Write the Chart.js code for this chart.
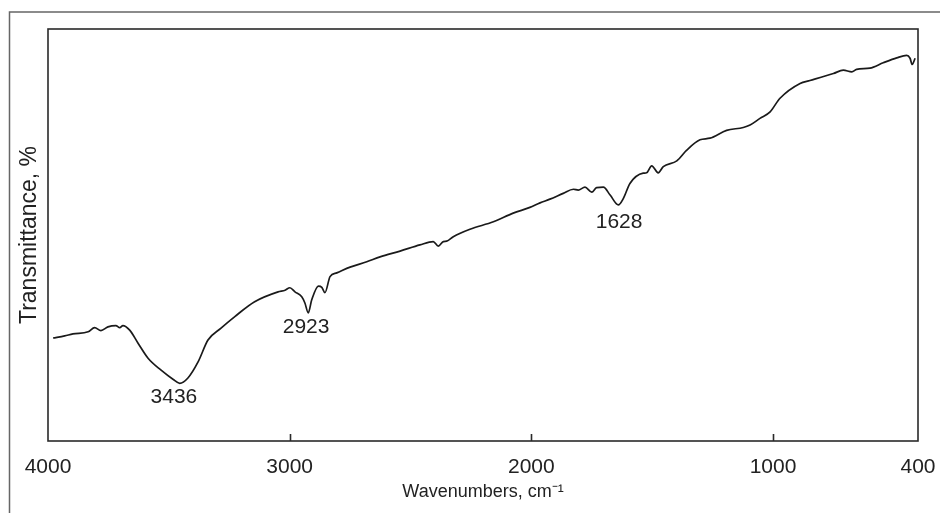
<!DOCTYPE html>
<html><head><meta charset="utf-8">
<script src="https://cdn.jsdelivr.net/npm/chart.js@4"></script>
<style>html,body{margin:0;padding:0;background:#fff;overflow:hidden}#wrap{position:relative;width:940px;height:513px}</style>
</head><body><div id="wrap"><canvas id="c" width="940" height="513"></canvas></div>
<script>
const wavenumbers = [3979,3931,3897,3834,3807,3781,3752,3719,3703,3690,3662,3628,3586,3532,3483,3455,3421,3379,3338,3284,3227,3145,3048,3019,2999,2978,2950,2937,2923,2909,2881,2867,2854,2833,2805,2750,2681,2626,2543,2461,2406,2385,2364,2350,2323,2254,2157,2075,2006,1964,1923,1868,1826,1806,1778,1750,1730,1702,1674,1640,1619,1592,1537,1523,1502,1475,1454,1398,1357,1302,1261,1192,1123,1095,1054,1012,971,888,847,750,709,674,654,599,544,488,447,433,424,412];
const transmittance = [25.0,25.5,26.0,26.5,27.5,26.8,27.7,28.0,27.5,28.0,26.9,23.8,20.1,17.2,15.0,14.0,15.3,19.2,24.5,27.4,30.2,33.8,36.2,36.6,37.2,36.2,35.0,33.5,31.1,34.2,37.6,37.3,36.0,39.9,40.8,42.2,43.5,44.7,46.1,47.6,48.4,47.3,48.4,48.5,49.6,51.4,53.2,55.3,56.7,57.8,58.7,60.1,61.1,60.9,61.6,60.4,61.5,61.6,59.7,57.3,58.9,62.5,65.0,65.1,66.8,65.1,66.6,68.0,70.6,73.1,73.5,75.4,76.1,76.7,78.3,79.9,83.2,86.8,87.5,89.2,90.0,89.6,90.2,90.5,91.8,93.0,93.6,92.9,91.4,92.9];
const tickValues = [4000,3000,2000,1000,400];
const innerTickValues = [3000,2000,1000];
const peakLabels = ['3436','2923','1628'];
const peakLabelX = [3479,2932,1637];
const peakLabelY = [10.7,27.7,53.2];

const FONT = "'Liberation Sans', Arial, sans-serif";

const framePlugin = {
  id: 'frame',
  afterDraw(chart) {
    const ctx = chart.ctx, a = chart.chartArea;
    const xs = chart.scales.x, ys = chart.scales.y;
    ctx.save();
    ctx.strokeStyle = '#666';
    ctx.lineWidth = 1.5;
    ctx.beginPath();
    ctx.moveTo(9.5, 513);
    ctx.lineTo(9.5, 12);
    ctx.lineTo(940, 12);
    ctx.stroke();
    ctx.strokeStyle = '#2a2a2a';
    ctx.lineWidth = 1.6;
    ctx.strokeRect(a.left, a.top, a.right - a.left, a.bottom - a.top);
    ctx.beginPath();
    innerTickValues.forEach(v => {
      const px = Math.round(xs.getPixelForValue(v)) + 0.5;
      ctx.moveTo(px, a.bottom);
      ctx.lineTo(px, a.bottom - 7);
    });
    ctx.stroke();
    ctx.fillStyle = '#222';
    ctx.font = '21px ' + FONT;
    ctx.textAlign = 'center';
    ctx.textBaseline = 'middle';
    peakLabels.forEach((t, i) => {
      ctx.fillText(t, xs.getPixelForValue(peakLabelX[i]), ys.getPixelForValue(peakLabelY[i]));
    });
    ctx.restore();
  }
};

new Chart(document.getElementById('c'), {
  type: 'line',
  data: {
    datasets: [{
      data: wavenumbers.map((x, i) => ({x: x, y: transmittance[i]})),
      borderColor: '#1a1a1a',
      borderWidth: 1.7,
      pointRadius: 0,
      cubicInterpolationMode: 'monotone',
      fill: false
    }]
  },
  options: {
    responsive: false,
    devicePixelRatio: 1,
    animation: false,
    layout: {padding: {top: 29, right: 22, left: 0, bottom: 0}},
    plugins: {legend: {display: false}, tooltip: {enabled: false}},
    scales: {
      x: {
        type: 'linear', min: 400, max: 4000, reverse: true,
        afterBuildTicks: s => { s.ticks = tickValues.map(v => ({value: v})); },
        afterFit: s => { s.height = 72; s.paddingLeft = 0; s.paddingRight = 0; },
        grid: {display: false, drawTicks: false},
        border: {display: false},
        ticks: {
          font: {size: 21, family: FONT}, color: '#222', padding: 14,
          maxRotation: 0, autoSkip: false, callback: v => String(v)
        },
        title: {
          display: true, text: 'Wavenumbers, cm\u207B\u00B9',
          font: {size: 18, family: FONT}, color: '#222',
          padding: {top: 0, bottom: 10}
        }
      },
      y: {
        min: 0, max: 100,
        afterFit: s => { s.width = 48; s.paddingTop = 0; s.paddingBottom = 0; },
        grid: {display: false, drawTicks: false},
        border: {display: false},
        ticks: {display: false},
        title: {
          display: true, text: 'Transmittance, %',
          font: {size: 23, family: FONT}, color: '#222',
          padding: {top: 16, bottom: 0}
        }
      }
    }
  },
  plugins: [framePlugin]
});
</script></body></html>
